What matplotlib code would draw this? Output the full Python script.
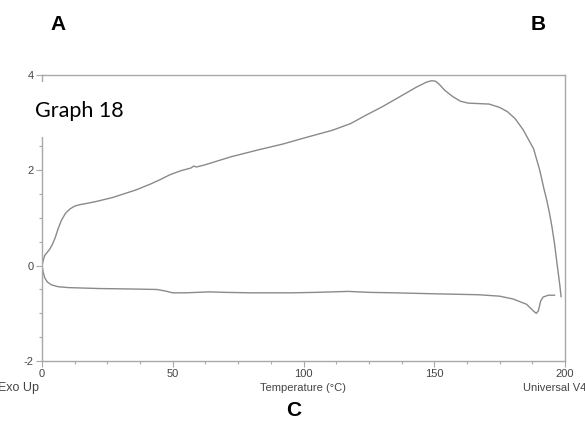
import matplotlib
matplotlib.use("Agg")
import matplotlib.pyplot as plt
from matplotlib.patches import Rectangle
from matplotlib.ticker import MultipleLocator

plt.rcParams["axes.unicode_minus"] = False

# Heating trace (upper branch), temperature in °C and heat flow
heat_temp = [0, 0.5, 1.1, 2, 3, 4, 5, 6.2, 7.5, 9, 10.7, 12.5, 14.5, 17.5, 21,
             27, 36, 41.4, 45, 49, 53, 57, 58, 59, 62, 72, 82, 92, 101, 111,
             118, 124, 130, 137, 143, 147, 149, 150.5, 152, 154, 157, 160, 163,
             167, 171, 175, 178, 181, 184, 186.5, 188, 190.4, 192, 193, 194,
             195, 196, 197, 198, 198.5]
heat_flow = [0, 0.12, 0.22, 0.28, 0.35, 0.45, 0.58, 0.78, 0.96, 1.10, 1.19, 1.25,
             1.28, 1.31, 1.35, 1.43, 1.59, 1.71, 1.80, 1.91, 1.99, 2.05, 2.09,
             2.07, 2.11, 2.28, 2.42, 2.55, 2.69, 2.84, 2.98, 3.16, 3.33, 3.55,
             3.74, 3.85, 3.88, 3.87, 3.80, 3.68, 3.55, 3.45, 3.41, 3.40, 3.39,
             3.32, 3.23, 3.08, 2.85, 2.60, 2.45, 1.99, 1.60, 1.38, 1.12, 0.82,
             0.46, 0.02, -0.40, -0.65]

# Lower branch
cool_temp = [0, 0.4, 1, 2, 3.5, 6, 10, 22, 35, 44, 47, 50, 55, 64, 70, 80, 95,
             105, 117, 125, 135, 150, 167, 175, 180.2, 185.3, 187.9, 189, 189.8,
             190.7, 191.6, 193.6, 196]
cool_flow = [0, -0.12, -0.25, -0.34, -0.40, -0.44, -0.46, -0.48, -0.49, -0.50,
             -0.53, -0.57, -0.57, -0.55, -0.56, -0.57, -0.57, -0.56, -0.54,
             -0.56, -0.57, -0.59, -0.61, -0.64, -0.70, -0.81, -0.95, -1.0,
             -0.95, -0.74, -0.66, -0.62, -0.62]

x_ticks = [0, 50, 100, 150, 200]
y_ticks = [-2, 0, 2, 4]

W, H = 585, 424
fig = plt.figure(figsize=(W / 100, H / 100), dpi=100)
ax = fig.add_axes([42 / W, 1 - 361 / H, (565 - 42) / W, (361 - 75) / H])

line_col = "#8a8a8a"
ax.plot(heat_temp, heat_flow, color=line_col, lw=1.0)
ax.plot(cool_temp, cool_flow, color=line_col, lw=1.0)

ax.set_xlim(0, 200)
ax.set_ylim(-2, 4)
ax.set_xticks(x_ticks)
ax.set_yticks(y_ticks)
ax.xaxis.set_minor_locator(MultipleLocator(12.5))
ax.yaxis.set_minor_locator(MultipleLocator(0.5))

spine_col = "#a8a8a8"
for s in ax.spines.values():
    s.set_color(spine_col)
    s.set_linewidth(1.0)

ax.tick_params(axis="both", which="major", length=4, width=0.8, color=spine_col,
               labelsize=8, labelcolor="#444444", pad=2)
ax.tick_params(axis="both", which="minor", length=2.5, width=0.8, color=spine_col)
for lab in ax.get_xticklabels() + ax.get_yticklabels():
    lab.set_family("Liberation Sans")

# White label panel over the left spine, with the graph title on it
fig.add_artist(Rectangle((33 / W, 1 - 137 / H), 95 / W, (137 - 82) / H,
                         transform=fig.transFigure, facecolor="white",
                         edgecolor="none", zorder=1))
fig.text(35 / W, 1 - 117 / H, "Graph 18", fontsize=15.5, family="Lato",
         color="black", ha="left", va="baseline", zorder=2)

fig.text(303 / W, 1 - 388 / H, "Temperature (°C)", fontsize=8,
         family="Liberation Sans", color="#444444", ha="center", va="center")
fig.text(-2 / W, 1 - 388 / H, "Exo Up", fontsize=9,
         family="Liberation Sans", color="#444444", ha="left", va="center")
fig.text(523 / W, 1 - 388 / H, "Universal V4", fontsize=8,
         family="Liberation Sans", color="#444444", ha="left", va="center")

for txt, x, y in [("A", 58, 24), ("B", 538, 24), ("C", 294, 410)]:
    fig.text(x / W, 1 - y / H, txt, fontsize=15, fontweight="bold",
             family="Liberation Sans", color="black", ha="center", va="center")

fig.savefig("out.png", dpi=100, facecolor="white")
